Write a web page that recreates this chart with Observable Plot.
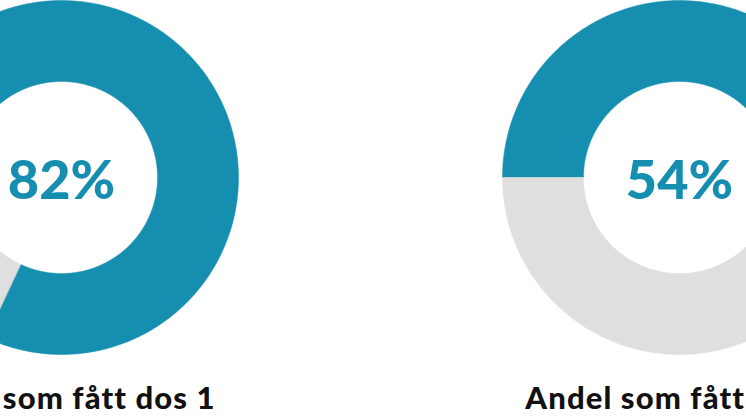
<!DOCTYPE html>
<html><head><meta charset="utf-8">
<script src="https://cdn.jsdelivr.net/npm/d3@7"></script>
<script src="https://cdn.jsdelivr.net/npm/@observablehq/plot@0.6"></script>
<style>body{margin:0;background:#fff}#chart svg{display:block}
#chart g[font-size="31"], #chart g[font-size="31"] text{letter-spacing:1.1px}</style>
</head><body><div id="chart"></div>
<script>
// ---- data ----
const categories = ["Andel som fått dos 1", "Andel som fått dos 2"];
const shares = [82, 54];            // percent vaccinated
const valueLabels = ["82%", "54%"];
const segments = ["fått", "ej fått"];

// ---- layout / style ----
const W = 746, H = 419;
const centersX = [61, 679];
const CY = 177, R_IN = 96, R_OUT = 177;
const START_DEG = 270; // donut starts at 9 o'clock, runs clockwise
const TEAL = "#168eb0", GREY = "#dfdfdf";

function arcRows() {
  const rows = [];
  categories.forEach((cat, i) => {
    const a = START_DEG, b = START_DEG + shares[i] * 3.6, c = START_DEG + 360;
    [[segments[0], a, b], [segments[1], b, c]].forEach(([seg, a0, a1]) => {
      const n = Math.max(8, Math.ceil((a1 - a0) * 2));
      const key = cat + "|" + seg;
      const pt = (deg, r) => {
        const t = deg * Math.PI / 180;
        return {key, seg, x: centersX[i] + r * Math.sin(t), y: CY - r * Math.cos(t)};
      };
      for (let k = 0; k <= n; k++) rows.push(pt(a0 + (a1 - a0) * k / n, R_OUT));
      for (let k = n; k >= 0; k--) rows.push(pt(a0 + (a1 - a0) * k / n, R_IN));
    });
  });
  return rows;
}

const idx = categories.map((_, i) => i);
const chart = Plot.plot({
  width: W, height: H, margin: 0,
  style: {background: "#fff", overflow: "hidden"},
  x: {type: "linear", domain: [0, W], range: [0, W], axis: null},
  y: {type: "linear", domain: [0, H], range: [0, H], axis: null},
  color: {domain: segments, range: [TEAL, GREY]},
  marks: [
    Plot.line(arcRows(), {x: "x", y: "y", z: "key", fill: "seg", stroke: "seg", strokeWidth: 0.5, curve: "linear-closed", clip: true}),
    Plot.text(idx, {x: i => centersX[i], y: () => CY + 4, text: i => valueLabels[i],
      fill: TEAL, fontSize: 54, fontWeight: 900, fontFamily: "Lato", lineAnchor: "middle", textAnchor: "middle", clip: true}),
    Plot.text(idx, {x: i => centersX[i], y: () => 399, text: i => categories[i],
      fill: "#111", fontSize: 31, fontWeight: 900, fontFamily: "Lato", lineAnchor: "middle", textAnchor: "middle", clip: true})
  ]
});
document.getElementById("chart").append(chart);
</script></body></html>
